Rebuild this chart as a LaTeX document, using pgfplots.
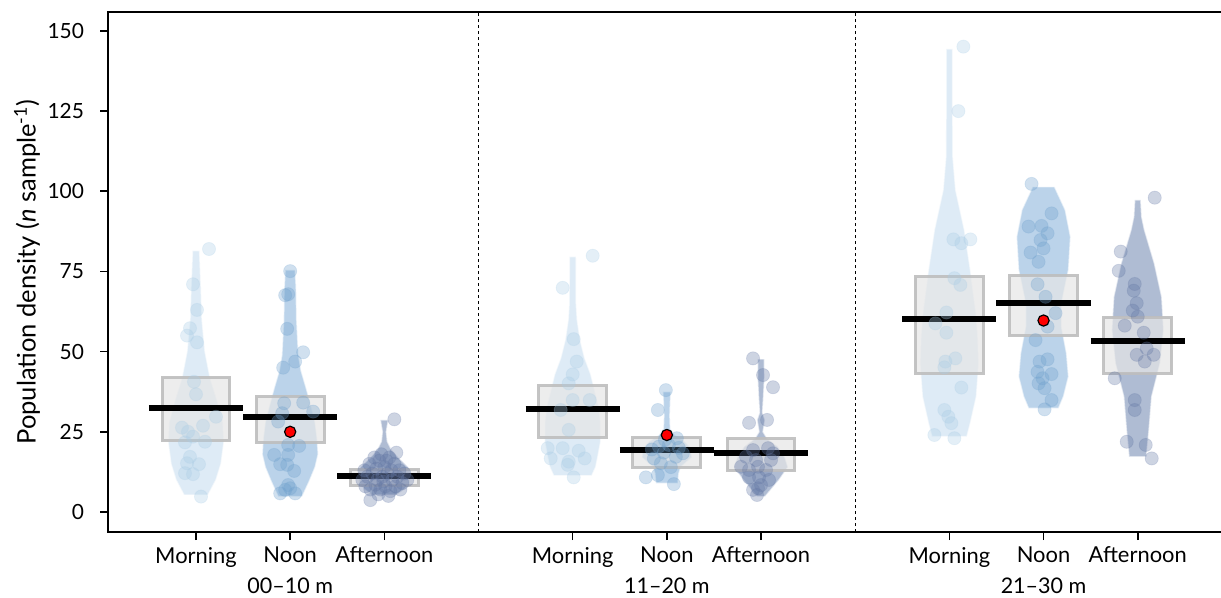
\documentclass[border=0pt]{standalone}
\usepackage{fontspec}
\setmainfont{Lato}
\usepackage{pgfplots}
\usepackage{pgfplotstable}
\pgfplotsset{compat=1.18}

\definecolor{vM}{RGB}{222,235,246}
\definecolor{vN}{RGB}{187,211,234}
\definecolor{vA}{RGB}{175,188,211}
\definecolor{pM}{RGB}{170,205,230}
\definecolor{pN}{RGB}{110,160,205}
\definecolor{pA}{RGB}{100,120,165}
\definecolor{boxfill}{RGB}{230,230,230}
\definecolor{boxdraw}{RGB}{190,190,190}

% violin outlines: value y, half-width w (px), side s
\pgfplotstableread{
y w s
5.3 12 1
10 20 1
15 25 1
22 28 1
28 27 1
35 21 1
42 14 1
50 9 1
60 6 1
70 5 1
81.5 3.5 1
81.5 3.5 -1
70 5 -1
60 6 -1
50 9 -1
42 14 -1
35 21 -1
28 27 -1
22 28 -1
15 25 -1
10 20 -1
5.3 12 -1
}\vMa
\pgfplotstableread{
y w s
4.8 12 1
9.5 19 1
14 25 1
18 28 1
23 27 1
28 25 1
33 21 1
38.7 16 1
44 11 1
49 8.3 1
60 6.5 1
70 6 1
75.5 5 1
75.5 5 -1
70 6 -1
60 6.5 -1
49 8.3 -1
44 11 -1
38.7 16 -1
33 21 -1
28 25 -1
23 27 -1
18 28 -1
14 25 -1
9.5 19 -1
4.8 12 -1
}\vNa
\pgfplotstableread{
y w s
5.3 12 1
7 20 1
9 25 1
12 27 1
14 24 1
17 14 1
19.5 7 1
22 3 1
25 2 1
28.7 4 1
28.7 4 -1
25 2 -1
22 3 -1
19.5 7 -1
17 14 -1
14 24 -1
12 27 -1
9 25 -1
7 20 -1
5.3 12 -1
}\vAa
\pgfplotstableread{
y w s
11.3 19 1
14 23 1
17 25 1
22 28 1
28 28 1
33 26 1
38 22 1
43 18 1
48 12 1
53.6 7.5 1
60 4.5 1
65 3.5 1
79.6 3.3 1
79.6 3.3 -1
65 3.5 -1
60 4.5 -1
53.6 7.5 -1
48 12 -1
43 18 -1
38 22 -1
33 26 -1
28 28 -1
22 28 -1
17 25 -1
14 23 -1
11.3 19 -1
}\vMb
\pgfplotstableread{
y w s
8.9 11 1
12 12 1
14 14 1
17 25 1
20 24 1
22 18 1
24 8 1
26 3.5 1
30 3 1
34 3.5 1
37.5 4 1
37.5 4 -1
34 3.5 -1
30 3 -1
26 3.5 -1
24 8 -1
22 18 -1
20 24 -1
17 25 -1
14 14 -1
12 12 -1
8.9 11 -1
}\vNb
\pgfplotstableread{
y w s
4.8 4 1
7 10 1
10 18 1
14 27 1
17 24 1
20.4 17 1
23 6 1
25 2 1
28.7 4 1
31 1.5 1
36 2.5 1
42 3.5 1
47.7 3.3 1
47.7 3.3 -1
42 3.5 -1
36 2.5 -1
31 1.5 -1
28.7 4 -1
25 2 -1
23 6 -1
20.4 17 -1
17 24 -1
14 27 -1
10 18 -1
7 10 -1
4.8 4 -1
}\vAb
\pgfplotstableread{
y w s
23.5 17.5 1
27.7 21 1
36 27 1
46.4 29.5 1
55 28.5 1
62 26.7 1
75.5 21 1
88 15 1
100.4 6.3 1
110.8 3.5 1
125 3.3 1
144.4 3.3 1
144.4 3.3 -1
125 3.3 -1
110.8 3.5 -1
100.4 6.3 -1
88 15 -1
75.5 21 -1
62 26.7 -1
55 28.5 -1
46.4 29.5 -1
36 27 -1
27.7 21 -1
23.5 17.5 -1
}\vMc
\pgfplotstableread{
y w s
32.3 15 1
36 20 1
42.2 25 1
49.5 23 1
57.8 18 1
65 18 1
75.5 25 1
85.8 27 1
94.2 21.7 1
101.4 11 1
101.4 11 -1
94.2 21.7 -1
85.8 27 -1
75.5 25 -1
65 18 -1
57.8 18 -1
49.5 23 -1
42.2 25 -1
36 20 -1
32.3 15 -1
}\vNc
\pgfplotstableread{
y w s
17.2 8.7 1
25.6 11.3 1
36 14 1
46.4 22.5 1
56.8 26 1
67.1 24 1
77.5 16.7 1
88 6.7 1
92 4 1
97.3 3 1
97.3 3 -1
92 4 -1
88 6.7 -1
77.5 16.7 -1
67.1 24 -1
56.8 26 -1
46.4 22.5 -1
36 14 -1
25.6 11.3 -1
17.2 8.7 -1
}\vAc

% points: horizontal jitter (px), value
\pgfplotstableread{
dx y
13 82
-3 71
1 63
-6 57.3
-9 55
1 52.9
-2 40.6
0 36.7
20 29.7
7 26.9
-14 26.3
-8 25
-3 23.5
9 21.9
-11 21.7
-6 17.2
-9 15.2
3 14.9
-11 12.1
-3 11.8
5 4.8
}\pMa
\pgfplotstableread{
dx y
0 75.1
-2 67.9
-5 67.6
-3 57.1
13 49.8
5 46.9
-7 45
-6 33.9
13 34.1
23 31.3
-8 30.8
-12 28.2
-2 20.9
9 20.6
-16 17.8
-2 17.8
-10 14.9
-3 14.7
4 12.8
-2 8.4
0 7.4
-10 5.8
5 5.8
-5 6.9
}\pNa
\pgfplotstableread{
dx y
10 28.9
-14 3.7
-20 13
-15 15
-10 17
-5 16
0 14
5 17
10 15
15 13
20 12
-22 10
-17 11
-12 12
-7 10
-2 11
3 12
8 10
13 11
18 9
23 10
-19 8
-14 7
-9 8.5
-4 7
1 8
6 6.5
11 8
16 7
-6 5.5
4 5
-1 9.5
-8 13.5
7 13
2 16
-3 18
12 18.5
}\pAa
\pgfplotstableread{
dx y
20 79.9
-10 69.9
1 53.9
4 46.9
0 42.9
-4 40.1
0 34.9
17 34.9
-12 31.8
-4 25.6
-25 19.9
-10 19.9
6 19.1
-22 16.7
-4 15.7
12 16.7
-5 14.7
1 10.8
}\pMb
\pgfplotstableread{
dx y
-1 38
-9 31.8
9 17.2
-13 16.7
-6 15.2
16 18.3
-21 10.8
-9 11.5
7 8.7
2 20.9
-8 20.4
-3 18.5
12 20
-15 19.5
4 14
-2 22.5
10 23
}\pNb
\pgfplotstableread{
dx y
-8 47.9
2 42.7
12 38.9
-12 27.8
6 28.7
-4 5.3
-8 19.3
7 19.9
10 16.2
-20 14.1
-3 14.1
-12 10.8
-2 10.8
8 10
-3 7.4
-8 6.9
0 8.4
-12 13.1
5 13.1
-5 16.2
-15 17.2
12 18.3
}\pAb
\pgfplotstableread{
dx y
14 145.1
9 125
4 85
12 83.8
21 85
5 72.9
11 70.8
-3 62.2
-14 58.8
-3 55.9
6 47.9
-4 46.9
-5 45.1
12 38.8
-5 31.8
-1 29.7
2 27.7
-15 24
5 23
}\pMc
\pgfplotstableread{
dx y
-12 102.3
8 93.1
-15 89
-2 89.2
4 86.9
-3 84.8
0 82.2
-13 80.9
-5 78
-6 71
2 67.1
12 62
4 57.8
-8 53.6
-4 46.9
4 47.6
-6 43.7
8 43
-1 41.7
-5 40.1
1 38.6
8 34.9
1 32
}\pNc
\pgfplotstableread{
dx y
17 98
-17 81.2
-19 75.2
-3 71.1
-4 69
-1 65.1
-5 62.8
0 60.9
-13 58.1
6 55.9
9 51
-1 49
16 49
7 46.9
-23 41.7
-3 34.9
-3 31.8
-11 21.9
8 20.9
14 16.7
}\pAc

\newcommand{\bean}[5]{%
  \addplot[fill=#4, draw=white, draw opacity=0.6, line width=0.7bp, forget plot]
    table[x expr={#1+\thisrow{s}*\thisrow{w}/94.17}, y=y] {#2} --cycle;
  \addplot[only marks, mark=*, mark size=3.3bp, forget plot,
    mark options={fill=#5, draw=#5, fill opacity=0.32, draw opacity=0.2, line width=0.4bp}]
    table[x expr={#1+\thisrow{dx}/94.17}, y=y] {#3};
}

\begin{document}
\begin{tikzpicture}[font=\fontsize{10.5}{12.6}\selectfont]
\begin{axis}[
  at={(0,0)}, anchor=south west, scale only axis,
  width=557bp, height=260bp,
  xmin=0.0655, xmax=11.895, ymin=-6.24, ymax=155.9,
  clip=false,
  axis line style={line width=0.8bp},
  tick style={black, line width=0.8bp},
  tick align=outside, major tick length=4bp,
  xtick pos=lower, ytick pos=left,
  xtick={1,2,3,5,6,7,9,10,11},
  xticklabels={Morning,Noon,Afternoon,Morning,Noon,Afternoon,Morning,Noon,Afternoon},
  xticklabel style={font=\fontsize{11}{13}\selectfont},
  ytick={0,25,50,75,100,125,150},
  /pgf/number format/assume math mode=true,
  yticklabel style={xshift=-4.5bp},
  ylabel={Population density (\textit{n} sample\textsuperscript{-1})},
  ylabel style={at={(axis description cs:-0.0727,0.5)}, anchor=center, font=\fontsize{12.8}{15}\selectfont},
]
\bean{1}{\vMa}{\pMa}{vM}{pM}
\bean{2}{\vNa}{\pNa}{vN}{pN}
\bean{3}{\vAa}{\pAa}{vA}{pA}
\bean{5}{\vMb}{\pMb}{vM}{pM}
\bean{6}{\vNb}{\pNb}{vN}{pN}
\bean{7}{\vAb}{\pAb}{vA}{pA}
\bean{9}{\vMc}{\pMc}{vM}{pM}
\bean{10}{\vNc}{\pNc}{vN}{pN}
\bean{11}{\vAc}{\pAc}{vA}{pA}

% inference boxes
\pgfplotsset{boxst/.style={fill=boxfill, fill opacity=0.7, draw=boxdraw, draw opacity=0.9, line width=1.5bp, forget plot}}
\addplot[boxst] coordinates {(0.64,22.2)(1.36,22.2)(1.36,42.0)(0.64,42.0)} --cycle;
\addplot[boxst] coordinates {(1.64,21.7)(2.36,21.7)(2.36,36.0)(1.64,36.0)} --cycle;
\addplot[boxst] coordinates {(2.64,8.4)(3.36,8.4)(3.36,13.3)(2.64,13.3)} --cycle;
\addplot[boxst] coordinates {(4.64,23.3)(5.36,23.3)(5.36,39.4)(4.64,39.4)} --cycle;
\addplot[boxst] coordinates {(5.64,13.8)(6.36,13.8)(6.36,23.3)(5.64,23.3)} --cycle;
\addplot[boxst] coordinates {(6.64,12.8)(7.36,12.8)(7.36,22.8)(6.64,22.8)} --cycle;
\addplot[boxst] coordinates {(8.64,43.2)(9.36,43.2)(9.36,73.4)(8.64,73.4)} --cycle;
\addplot[boxst] coordinates {(9.64,55.0)(10.36,55.0)(10.36,73.6)(9.64,73.6)} --cycle;
\addplot[boxst] coordinates {(10.64,43.2)(11.36,43.2)(11.36,60.7)(10.64,60.7)} --cycle;

% means
\pgfplotsset{meanst/.style={black, line width=3bp, forget plot}}
\addplot[meanst] coordinates {(0.5,32.3)(1.5,32.3)};
\addplot[meanst] coordinates {(1.5,29.7)(2.5,29.7)};
\addplot[meanst] coordinates {(2.5,11.3)(3.5,11.3)};
\addplot[meanst] coordinates {(4.5,32.1)(5.5,32.1)};
\addplot[meanst] coordinates {(5.5,19.3)(6.5,19.3)};
\addplot[meanst] coordinates {(6.5,18.3)(7.5,18.3)};
\addplot[meanst] coordinates {(8.5,60.1)(9.5,60.1)};
\addplot[meanst] coordinates {(9.5,65.3)(10.5,65.3)};
\addplot[meanst] coordinates {(10.5,53.3)(11.5,53.3)};

% red markers
\addplot[only marks, mark=*, mark size=2.8bp, mark options={fill=red, draw=black, line width=0.6bp}] coordinates {(2,25.0)(6,24.0)(10,59.7)};

% separators
\addplot[black, line width=0.6bp, dash pattern=on 1.5bp off 1.5bp] coordinates {(4,-6.24)(4,155.9)};
\addplot[black, line width=0.6bp, dash pattern=on 1.5bp off 1.5bp] coordinates {(8,-6.24)(8,155.9)};

% group labels
\node[anchor=base, font=\fontsize{10.8}{13}\selectfont] at (axis cs:2,-6.24) [yshift=-30.5bp] {00--10 m};
\node[anchor=base, font=\fontsize{10.8}{13}\selectfont] at (axis cs:6,-6.24) [yshift=-30.5bp] {11--20 m};
\node[anchor=base, font=\fontsize{10.8}{13}\selectfont] at (axis cs:10,-6.24) [yshift=-30.5bp] {21--30 m};
\end{axis}
\pgfresetboundingbox
\path[use as bounding box] (-54bp,-33bp) rectangle (556.5bp,266bp);
\end{tikzpicture}
\end{document}
